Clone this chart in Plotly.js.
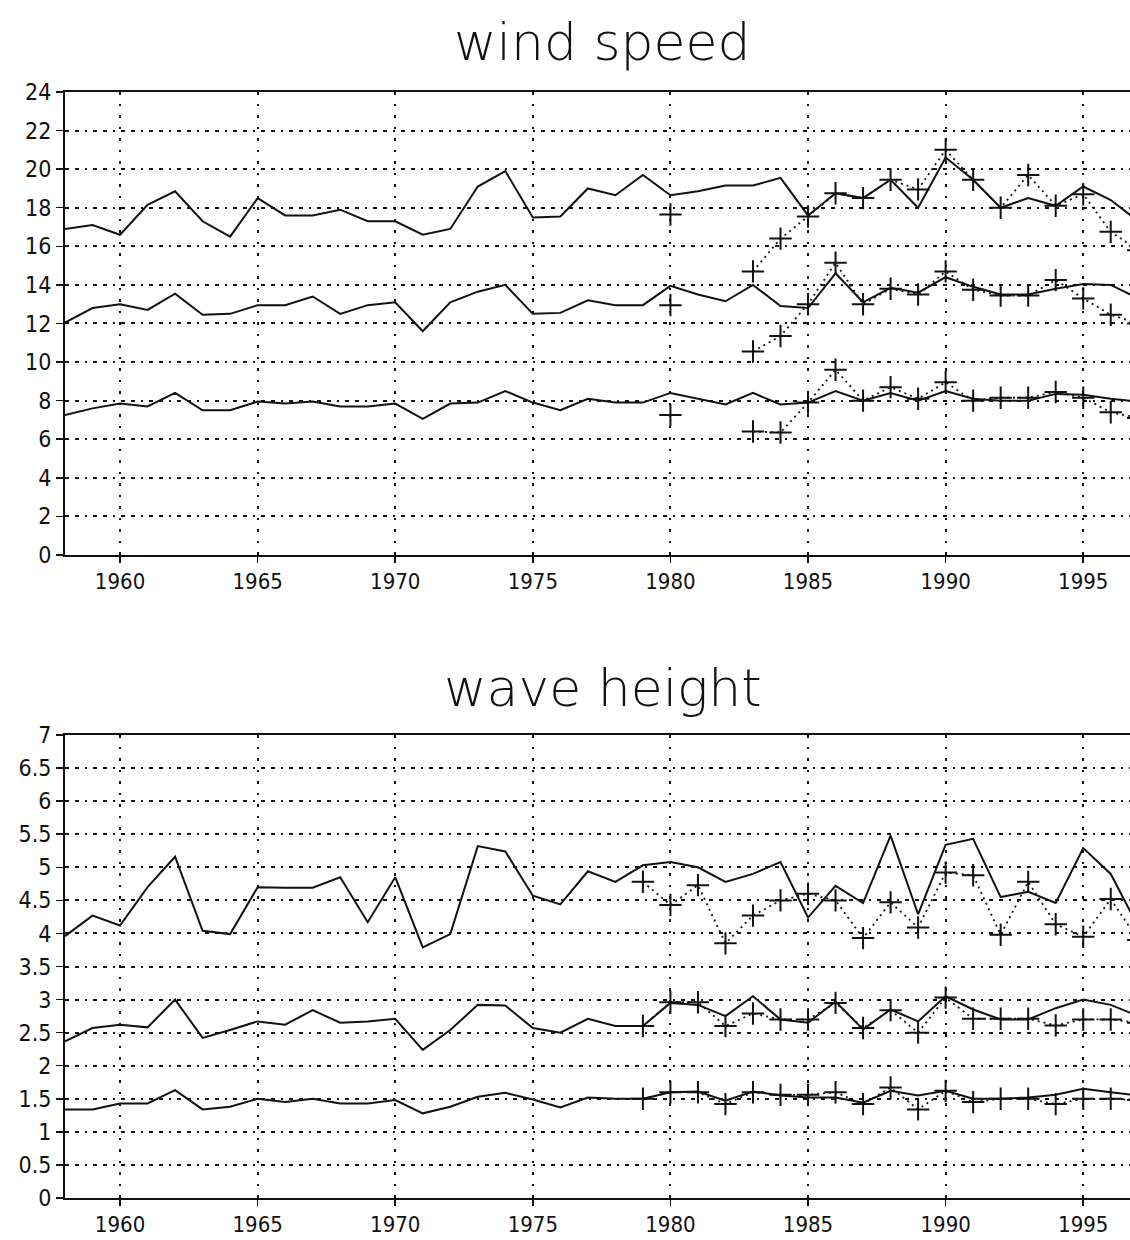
<!DOCTYPE html>
<html>
<head>
<meta charset="utf-8">
<script src="https://cdn.plot.ly/plotly-3.0.1.min.js"></script>
<style>html,body{margin:0;padding:0;background:#fff;}#chart{width:1130px;height:1240px;}</style>
</head>
<body>
<div id="chart"></div>
<script>
// ---- data ----
const years = [1958,1959,1960,1961,1962,1963,1964,1965,1966,1967,1968,1969,1970,1971,1972,1973,1974,1975,1976,1977,
               1978,1979,1980,1981,1982,1983,1984,1985,1986,1987,1988,1989,1990,1991,1992,1993,1994,1995,1996,1997];

const windHigh = [16.9,17.1,16.6,18.15,18.85,17.3,16.5,18.5,17.6,17.6,17.9,17.3,17.3,16.6,16.9,19.1,19.9,17.5,17.55,19.0,
                  18.65,19.7,18.65,18.85,19.15,19.15,19.55,17.6,18.75,18.5,19.45,18.0,20.6,19.45,18.0,18.5,18.1,19.1,18.4,17.3];
const windMid  = [12.05,12.8,13.0,12.7,13.55,12.45,12.5,12.95,12.95,13.4,12.5,12.95,13.1,11.6,13.1,13.65,14.0,12.5,12.55,13.2,
                  12.95,12.95,13.95,13.5,13.15,14.0,12.9,12.8,14.6,13.1,13.85,13.6,14.4,13.9,13.5,13.5,13.8,14.05,14.0,13.3];
const windLow  = [7.25,7.6,7.85,7.7,8.4,7.5,7.5,7.95,7.85,7.95,7.7,7.7,7.85,7.05,7.85,7.9,8.5,7.9,7.5,8.1,
                  7.9,7.9,8.4,8.1,7.8,8.4,7.8,7.9,8.5,8.0,8.4,8.0,8.5,8.1,8.0,8.0,8.35,8.3,8.1,7.95];

const obsYearsWind = [1980,1981,1982,1983,1984,1985,1986,1987,1988,1989,1990,1991,1992,1993,1994,1995,1996,1997];
const windHighObs = [17.65,null,null,14.7,16.4,17.55,18.75,18.5,19.45,18.95,21.0,19.45,18.0,19.7,18.1,18.7,16.75,15.8];
const windMidObs  = [12.95,null,null,10.55,11.35,13.0,15.15,13.0,13.8,13.5,14.7,13.75,13.45,13.45,14.25,13.3,12.45,12.0];
const windLowObs  = [7.25,null,null,6.4,6.35,7.9,9.6,8.0,8.7,8.1,8.95,8.0,8.15,8.15,8.45,8.15,7.4,7.1];

const waveHigh = [3.96,4.27,4.12,4.7,5.16,4.04,3.99,4.7,4.69,4.69,4.85,4.17,4.85,3.79,3.99,5.32,5.24,4.57,4.44,4.94,
                  4.78,5.03,5.08,5.0,4.78,4.9,5.08,4.24,4.72,4.46,5.48,4.29,5.34,5.43,4.55,4.63,4.46,5.29,4.9,4.1];
const waveMid  = [2.37,2.57,2.62,2.58,3.0,2.42,2.54,2.67,2.62,2.84,2.65,2.67,2.71,2.24,2.54,2.92,2.91,2.57,2.5,2.71,
                  2.6,2.6,2.95,2.92,2.75,3.05,2.7,2.65,2.97,2.55,2.85,2.67,3.05,2.85,2.7,2.7,2.87,3.0,2.92,2.75];
const waveLow  = [1.34,1.34,1.43,1.43,1.63,1.34,1.38,1.5,1.45,1.5,1.43,1.43,1.48,1.28,1.38,1.53,1.59,1.49,1.37,1.52,
                  1.5,1.5,1.6,1.61,1.47,1.61,1.55,1.52,1.52,1.44,1.62,1.55,1.62,1.5,1.5,1.52,1.56,1.65,1.6,1.55];

const obsYearsWave = [1979,1980,1981,1982,1983,1984,1985,1986,1987,1988,1989,1990,1991,1992,1993,1994,1995,1996,1997];
const waveHighObs = [4.78,4.43,4.73,3.85,4.27,4.5,4.6,4.5,3.93,4.47,4.09,4.92,4.88,3.98,4.78,4.14,3.95,4.52,3.9];
const waveMidObs  = [2.6,2.96,2.96,2.6,2.79,2.7,2.7,2.95,2.57,2.84,2.5,3.03,2.71,2.71,2.71,2.61,2.7,2.7,2.65];
const waveLowObs  = [1.5,1.6,1.6,1.42,1.6,1.56,1.56,1.6,1.42,1.67,1.34,1.62,1.45,1.5,1.5,1.42,1.5,1.5,1.48];

const xTicks = [1960,1965,1970,1975,1980,1985,1990,1995];
const windTicks = [0,2,4,6,8,10,12,14,16,18,20,22,24];
const waveTicks = [0,0.5,1,1.5,2,2.5,3,3.5,4,4.5,5,5.5,6,6.5,7];
const titles = ["wind speed", "wave height"];

// ---- styles ----
const INK = '#111';
const FONT = 'DejaVu Sans Condensed, DejaVu Sans, sans-serif';

function solid(x, y, xa, ya) {
  return {x: x, y: y, xaxis: xa, yaxis: ya, type: 'scatter', mode: 'lines',
          line: {color: INK, width: 2}, hoverinfo: 'skip', showlegend: false};
}
function obs(x, y, xa, ya) {
  return {x: x, y: y, xaxis: xa, yaxis: ya, type: 'scatter', mode: 'lines+markers',
          connectgaps: false,
          line: {color: INK, width: 1.8, dash: '2px,4px'},
          marker: {symbol: 'cross-thin-open', size: 16, color: INK, line: {color: INK, width: 2}},
          hoverinfo: 'skip', showlegend: false};
}

const traces = [
  solid(years, windHigh, 'x', 'y'), solid(years, windMid, 'x', 'y'), solid(years, windLow, 'x', 'y'),
  obs(obsYearsWind, windHighObs, 'x', 'y'), obs(obsYearsWind, windMidObs, 'x', 'y'), obs(obsYearsWind, windLowObs, 'x', 'y'),
  solid(years, waveHigh, 'x2', 'y2'), solid(years, waveMid, 'x2', 'y2'), solid(years, waveLow, 'x2', 'y2'),
  obs(obsYearsWave, waveHighObs, 'x2', 'y2'), obs(obsYearsWave, waveMidObs, 'x2', 'y2'), obs(obsYearsWave, waveLowObs, 'x2', 'y2')
];

function xaxisDef(anchor) {
  return {
    anchor: anchor, range: [1958, 1996.7], tickmode: 'array', tickvals: xTicks,
    ticktext: xTicks.map(String), ticks: 'outside', ticklen: 6, tickwidth: 1.5, tickcolor: INK,
    showline: true, linecolor: INK, linewidth: 2, mirror: true,
    showgrid: true, gridcolor: '#111', gridwidth: 2, griddash: '3px,9px,2px,9px',
    zeroline: false, tickfont: {family: FONT, size: 22, color: INK}
  };
}
function yaxisDef(anchor, domain, range, ticks) {
  return {
    anchor: anchor, domain: domain, range: range, tickmode: 'array', tickvals: ticks,
    ticktext: ticks.map(String), ticks: 'outside', ticklen: 7, tickwidth: 1.5, tickcolor: INK,
    showline: true, linecolor: INK, linewidth: 2, mirror: false,
    showgrid: true, gridcolor: '#111', gridwidth: 2, griddash: '4px,6px,4px,6px,2px,6px',
    zeroline: false, tickfont: {family: FONT, size: 23, color: INK}
  };
}

const layout = {
  width: 1130, height: 1240,
  margin: {l: 65, r: 0, t: 92, b: 42},
  paper_bgcolor: '#fff', plot_bgcolor: '#fff',
  xaxis: xaxisDef('y'),
  yaxis: yaxisDef('x', [0.5814, 1.0], [0, 24], windTicks),
  xaxis2: xaxisDef('y2'),
  yaxis2: yaxisDef('x2', [0.0, 0.4186], [0, 7], waveTicks),
  annotations: [
    {text: titles[0], xref: 'paper', yref: 'paper', x: 0.505, y: 1.045, xanchor: 'center', yanchor: 'middle',
     showarrow: false, font: {family: 'DejaVu Sans, sans-serif', size: 52, color: INK, weight: 300}},
    {text: titles[1], xref: 'paper', yref: 'paper', x: 0.505, y: 0.461, xanchor: 'center', yanchor: 'middle',
     showarrow: false, font: {family: 'DejaVu Sans, sans-serif', size: 52, color: INK, weight: 300}}
  ]
};

Plotly.newPlot('chart', traces, layout, {displayModeBar: false, staticPlot: true});
</script>
</body>
</html>
